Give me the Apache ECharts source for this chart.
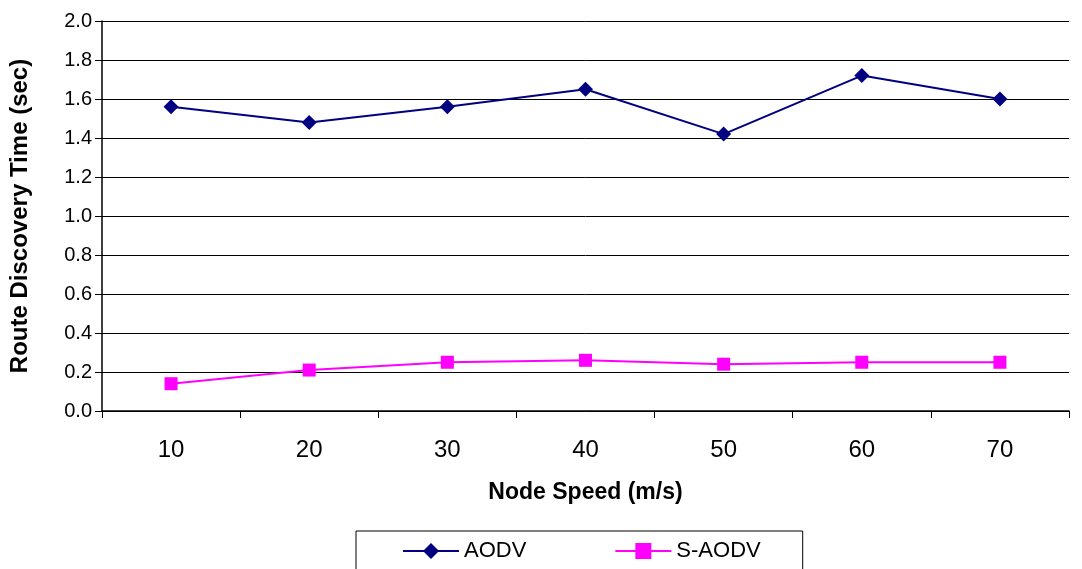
<!DOCTYPE html>
<html><head><meta charset="utf-8">
<script src="https://cdn.jsdelivr.net/npm/echarts@6/dist/echarts.min.js"></script>
<style>html,body{margin:0;padding:0;background:#fff}#c{width:1082px;height:569px}</style>
</head><body><div id="c"></div>
<script>
const categories = ['10','20','30','40','50','60','70'];
const aodv = [1.56, 1.48, 1.56, 1.65, 1.42, 1.72, 1.60];
const saodv = [0.14, 0.21, 0.25, 0.26, 0.24, 0.25, 0.25];
const font = 'Liberation Sans, Arial, sans-serif';
const chart = echarts.init(document.getElementById('c'), null, {renderer:'canvas'});
chart.setOption({
  animation:false,
  backgroundColor:'#fff',
  grid:{left:101, right:13, top:21, bottom:158, containLabel:false},
  xAxis:{
    type:'category', data:categories, boundaryGap:true,
    name:'Node Speed (m/s)', nameLocation:'middle', nameGap:70,
    nameTextStyle:{fontFamily:font, fontSize:23, fontWeight:'bold', color:'#000'},
    axisLine:{lineStyle:{color:'#000', width:1.5}},
    axisTick:{show:true, length:7, lineStyle:{color:'#000'}, alignWithLabel:false},
    axisLabel:{fontFamily:font, fontSize:24, color:'#000', margin:27},
    splitLine:{show:false}
  },
  yAxis:{
    type:'value', min:0, max:2, interval:0.2,
    name:'Route Discovery Time (sec)', nameLocation:'middle', nameGap:70,
    nameTextStyle:{fontFamily:font, fontSize:24, fontWeight:'bold', color:'#000'},
    axisLine:{show:true, lineStyle:{color:'#000', width:1.5}},
    axisTick:{show:true, length:7, lineStyle:{color:'#000'}},
    axisLabel:{fontFamily:font, fontSize:20, color:'#000', margin:10, formatter:v=>v.toFixed(1)},
    splitLine:{show:true, lineStyle:{color:'#000', width:1}}
  },
  legend:{
    left:356, top:531,
    padding:[9,42,20,46], itemGap:88,
    borderColor:'#000', borderWidth:1,
    itemWidth:56, itemHeight:20,
    textStyle:{fontFamily:font, fontSize:22, color:'#000'},
    data:['AODV','S-AODV']
  },
  series:[
    {name:'AODV', type:'line', data:aodv, symbol:'diamond', symbolSize:15,
     lineStyle:{color:'#000080', width:2}, itemStyle:{color:'#000080'}},
    {name:'S-AODV', type:'line', data:saodv, symbol:'rect', symbolSize:13,
     lineStyle:{color:'#FF00FF', width:2}, itemStyle:{color:'#FF00FF'}}
  ]
});
</script></body></html>
